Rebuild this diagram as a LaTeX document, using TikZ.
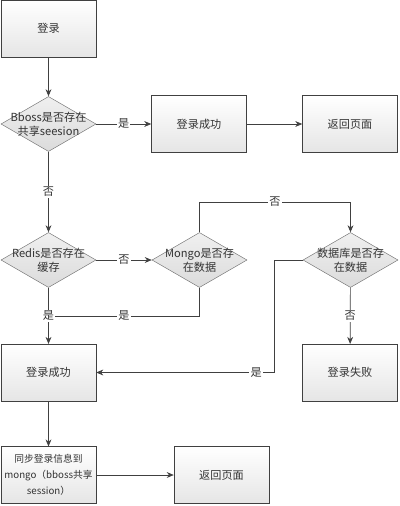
\documentclass[tikz,border=0pt]{standalone}
\usepackage{fontspec}
\setmainfont{Noto Sans CJK SC}
\usetikzlibrary{shapes.geometric, arrows.meta, shadows}

\begin{document}
\begin{tikzpicture}[x=0.03cm, y=-0.03cm,
        every node/.style={font=\fontsize{9.5}{12}\selectfont, text=black!80},
        procbox/.style={draw=black!75, top color=white, bottom color=black!10,
            minimum width=2.85cm, minimum height=1.7cm, align=center,
            drop shadow={shadow xshift=0.7pt, shadow yshift=-0.7pt, opacity=0.35}},
        decision/.style={diamond, draw=black!55, top color=black!6, bottom color=black!14,
            minimum width=2.85cm, minimum height=1.65cm, inner sep=0pt},
        yn/.style={fill=white, inner sep=1pt},
        conn/.style={draw=black!75, line width=0.6pt},
        arr/.style={conn, -{Stealth[length=6pt, width=5pt]}}]
        \useasboundingbox (0,0) rectangle (400,506);

        \node[procbox] at (48.5, 28.5)     (login)  {登录};
        \node[decision, label={[align=center]center:Bboss是否存在\\共享seesion}]
                       at (48.5, 124)      (bboss)  {};
        \node[procbox] at (199, 124)       (ok1)    {登录成功};
        \node[procbox] at (350, 124)       (back1)  {返回页面};
        \node[decision, label={[align=center]center:Redis是否存在\\缓存}]
                       at (48.5, 260)      (redis)  {};
        \node[decision, label={[align=center]center:Mongo是否存\\在数据}]
                       at (199.5, 260)     (mongo)  {};
        \node[decision, label={[align=center]center:数据库是否存\\在数据}]
                       at (350.5, 260)     (db)     {};
        \node[procbox] at (48.5, 372.5)    (ok2)    {登录成功};
        \node[procbox] at (350, 372.5)     (fail)   {登录失败};
        \node[procbox, font=\fontsize{8.3}{13.5}\selectfont, inner xsep=1pt]
                       at (48.5, 475)      (sync)   {同步登录信息到\\mongo（bboss共享\\session）};
        \node[procbox] at (221.5, 475)     (back2)  {返回页面};

        \coordinate (m1) at (199.5, 202);
        \coordinate (m2) at (350.5, 202);
        \coordinate (j)  at (48.5, 316);
        \coordinate (d1) at (274, 260);

        \draw[arr] (login) -- (bboss);
        \draw[arr] (bboss) -- node[yn] {是} (ok1);
        \draw[arr] (ok1) -- (back1);
        \draw[arr] (bboss) -- node[yn] {否} (redis);
        \draw[arr] (redis) -- node[yn] {否} (mongo);
        \draw[conn] (mongo.north) -- (m1) -- node[yn] {否} (m2);
        \draw[arr] (m2) -- (db.north);
        \draw[conn] (mongo.south) |- node[yn, pos=0.75] {是} (j);
        \draw[arr] (redis) -- node[yn] {是} (ok2);
        \draw[arr] (db) -- node[yn] {否} (fail);
        \draw[arr] (db.west) -- (d1) |- node[yn, pos=0.55] {是} (ok2.east);
        \draw[arr] (ok2) -- (sync);
        \draw[arr] (sync) -- (back2);
    \end{tikzpicture}
\end{document}
